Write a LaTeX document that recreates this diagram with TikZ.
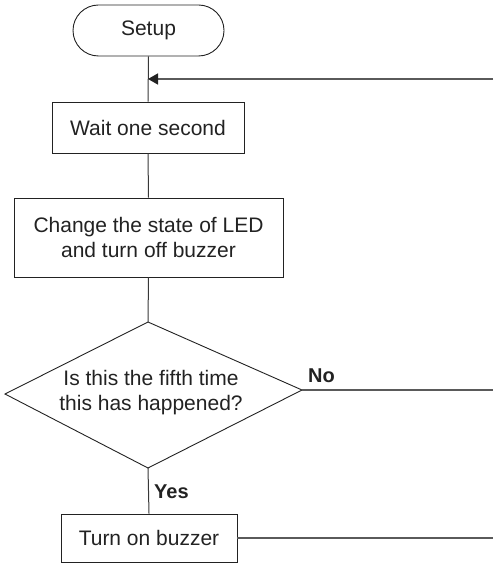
\documentclass[tikz,border=0pt]{standalone}
\usepackage{fontspec}
\setmainfont{Liberation Sans}
\usetikzlibrary{shapes.misc,arrows.meta}
\definecolor{ink}{HTML}{222222}
\definecolor{wire}{HTML}{5A5A5A}
\tikzset{
  box/.style={draw=ink, line width=0.9pt, rectangle, inner sep=0pt, align=center, text=ink, font=\fontsize{21}{25}\selectfont},
  term/.style={draw=ink, line width=0.9pt, rounded rectangle, inner sep=0pt, text=ink, font=\fontsize{21}{25}\selectfont},
  txt/.style={inner sep=0pt, align=center, text=ink, font=\fontsize{21}{25}\selectfont},
  lbl/.style={inner sep=0pt, text=ink, font=\fontsize{20}{24}\selectfont\bfseries},
  conn/.style={draw=ink!90, line width=1pt},
  far/.style={draw=wire, line width=1.5pt},
}
\begin{document}
\begin{tikzpicture}[x=1pt,y=-1pt]
\useasboundingbox (0,0) rectangle (493,564);
\node[term, minimum width=151pt, minimum height=51pt] (setup) at (148.5,30.5) {Setup};
\node[box, minimum width=192pt, minimum height=51pt] (wait) at (148,127.5) {Wait one second};
\node[box, minimum width=269pt, minimum height=79pt] (change) at (148.5,237.5) {Change the state of LED\\and turn off buzzer};
\coordinate (dt) at (148,322);
\coordinate (dr) at (302,390);
\coordinate (db) at (148,468);
\coordinate (dl) at (5,394);
\draw[draw=ink, line width=0.9pt, line join=miter] (dt) -- (dr) -- (db) -- (dl) -- cycle;
\node[txt] (decide) at (151,393) {Is this the fifth time\\this has happened?};
\node[box, minimum width=176pt, minimum height=48pt] (buzz) at (149,538) {Turn on buzzer};
\coordinate (loopin) at (148,79);
\coordinate (loopR) at (493,79);
\coordinate (noR) at (493,390);
\coordinate (buzzR) at (493,538);
\draw[conn] (setup.south) -- (wait.north);
\draw[conn] (wait.south) -- (change.north);
\draw[conn] (change.south) -- (dt);
\draw[conn] (db) -- (buzz.north);
\draw[far, -{Triangle[length=10pt,width=11pt,fill=ink,color=ink]}] (loopR) -- (loopin);
\draw[far, line width=1.2pt] (dr) -- (noR);
\draw[far] (buzz.east) -- (buzzR);
\node[lbl, anchor=west] (no) at (308,376) {No};
\node[lbl, anchor=west] (yes) at (154,492) {Yes};
\end{tikzpicture}
\end{document}
